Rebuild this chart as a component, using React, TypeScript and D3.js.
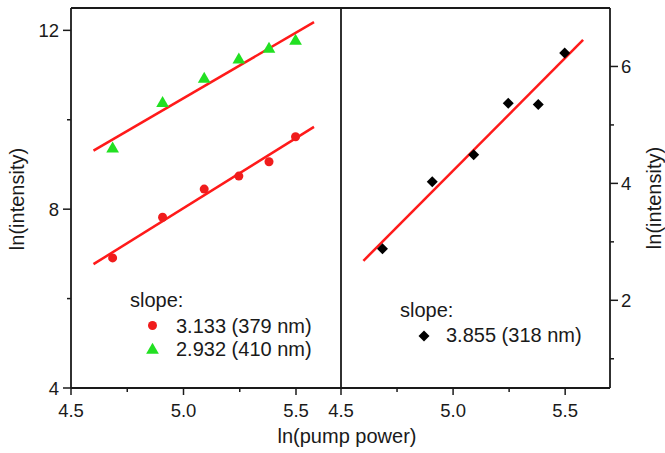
import React from "react";
import * as d3 from "d3";

// ln(pump power) values shared by all three series
const lnPower = [4.685, 4.907, 5.092, 5.246, 5.38, 5.498];
const red379 = [6.91, 7.82, 8.45, 8.74, 9.06, 9.62];
const green410 = [9.35, 10.37, 10.91, 11.34, 11.58, 11.76];
const black318 = [2.88, 4.03, 4.49, 5.37, 5.35, 6.23];

// linear fits: slope, intercept, x range of the drawn line
const fitRed = { slope: 3.133, intercept: -7.642 };
const fitGreen = { slope: 2.932, intercept: -4.177 };
const fitBlack = { slope: 3.855, intercept: -15.057 };
const fitRange = [4.6, 5.58];

const xTicks = [4.5, 5.0, 5.5];
const xMinor = [4.75, 5.25];
const leftTicks = [4, 8, 12];
const leftMinor = [6, 10];
const rightTicks = [2, 4, 6];
const rightMinor = [1, 3, 5];

const W = 665;
const H = 453;
const top = 8;
const bottom = 388;
const font = "'Liberation Sans', Arial, sans-serif";
const ink = "#1a1a1a";

const xL = d3.scaleLinear().domain([4.5, 5.7]).range([71, 341]);
const xR = d3.scaleLinear().domain([4.5, 5.7]).range([341, 610]);
const yL = d3.scaleLinear().domain([4, 12.5]).range([bottom, top]);
const yR = d3.scaleLinear().domain([0.5, 7]).range([bottom, top]);

const fitLine = (fit, x, y) =>
  d3.line()(fitRange.map(v => [x(v), y(fit.slope * v + fit.intercept)]));

const tri = d3.symbol().type(d3.symbolTriangle).size(70)();
const dia = (s: number) => `M0,${-s}L${s},0L0,${s}L${-s},0Z`;

const XAxis = ({ x }) => (
  <g>
    <line x1={x.range()[0]} x2={x.range()[1]} y1={bottom} y2={bottom} stroke={ink} strokeWidth={1.8} />
    {xTicks.map(t => (
      <g key={t}>
        <line x1={x(t)} x2={x(t)} y1={bottom} y2={bottom + 7} stroke={ink} strokeWidth={1.5} />
        <text x={x(t)} y={416.5} textAnchor="middle" fontSize={18.5}>{d3.format(".1f")(t)}</text>
      </g>
    ))}
    {xMinor.map(t => (
      <line key={t} x1={x(t)} x2={x(t)} y1={bottom} y2={bottom + 4} stroke={ink} strokeWidth={1.5} />
    ))}
  </g>
);

export default function App() {
  return (
    <svg width={W} height={H} style={{ position: "absolute", left: 0, top: 0, background: "#fff" }}
      fontFamily={font} fill={ink}>
      {/* frame */}
      <line x1={71} x2={610} y1={top} y2={top} stroke={ink} strokeWidth={1.8} />
      <line x1={341} x2={341} y1={top} y2={bottom} stroke={ink} strokeWidth={1.8} />
      <line x1={71} x2={71} y1={top} y2={bottom} stroke={ink} strokeWidth={1.8} />
      <line x1={610} x2={610} y1={top} y2={bottom} stroke={ink} strokeWidth={1.8} />

      <XAxis x={xL} />
      <XAxis x={xR} />

      {/* left y axis */}
      {leftTicks.map(t => (
        <g key={t}>
          <line x1={63} x2={71} y1={yL(t)} y2={yL(t)} stroke={ink} strokeWidth={1.5} />
          <text x={59} y={yL(t) + 6.5} textAnchor="end" fontSize={18.5}>{t}</text>
        </g>
      ))}
      {leftMinor.map(t => (
        <line key={t} x1={67} x2={71} y1={yL(t)} y2={yL(t)} stroke={ink} strokeWidth={1.5} />
      ))}

      {/* right y axis */}
      {rightTicks.map(t => (
        <g key={t}>
          <line x1={610} x2={618} y1={yR(t)} y2={yR(t)} stroke={ink} strokeWidth={1.5} />
          <text x={621} y={yR(t) + 6.5} fontSize={18.5}>{t}</text>
        </g>
      ))}
      {rightMinor.map(t => (
        <line key={t} x1={610} x2={614} y1={yR(t)} y2={yR(t)} stroke={ink} strokeWidth={1.5} />
      ))}

      {/* axis titles */}
      <text x={347} y={443} textAnchor="middle" fontSize={20}>ln(pump power)</text>
      <text transform="translate(24,199) rotate(-90)" textAnchor="middle" fontSize={20}>ln(intensity)</text>
      <text transform="translate(661,198) rotate(-90)" textAnchor="middle" fontSize={20}>ln(intensity)</text>

      {/* left panel fits + points */}
      <path d={fitLine(fitGreen, xL, yL)} stroke="#ff1a1a" strokeWidth={2.5} fill="none" />
      <path d={fitLine(fitRed, xL, yL)} stroke="#ff1a1a" strokeWidth={2.5} fill="none" />
      {lnPower.map((v, i) => (
        <circle key={"r" + i} cx={xL(v)} cy={yL(red379[i])} r={4.5} fill="#f01c1c" />
      ))}
      {lnPower.map((v, i) => (
        <path key={"g" + i} d={tri} transform={`translate(${xL(v)},${yL(green410[i])})`} fill="#22e022" />
      ))}

      {/* right panel fit + points */}
      <path d={fitLine(fitBlack, xR, yR)} stroke="#ff1a1a" strokeWidth={2.5} fill="none" />
      {lnPower.map((v, i) => (
        <path key={"b" + i} d={dia(5.5)} transform={`translate(${xR(v)},${yR(black318[i])})`} fill="#000" />
      ))}

      {/* legends */}
      <g fontSize={20}>
        <text x={130} y={307}>slope:</text>
        <circle cx={152.5} cy={325.5} r={4.5} fill="#f01c1c" />
        <text x={176} y={332.5}>3.133 (379 nm)</text>
        <path d={tri} transform="translate(152.5,350)" fill="#22e022" />
        <text x={176} y={355.5}>2.932 (410 nm)</text>

        <text x={400} y={317}>slope:</text>
        <path d={dia(5.5)} transform="translate(424,336)" fill="#000" />
        <text x={446} y={342}>3.855 (318 nm)</text>
      </g>
    </svg>
  );
}
